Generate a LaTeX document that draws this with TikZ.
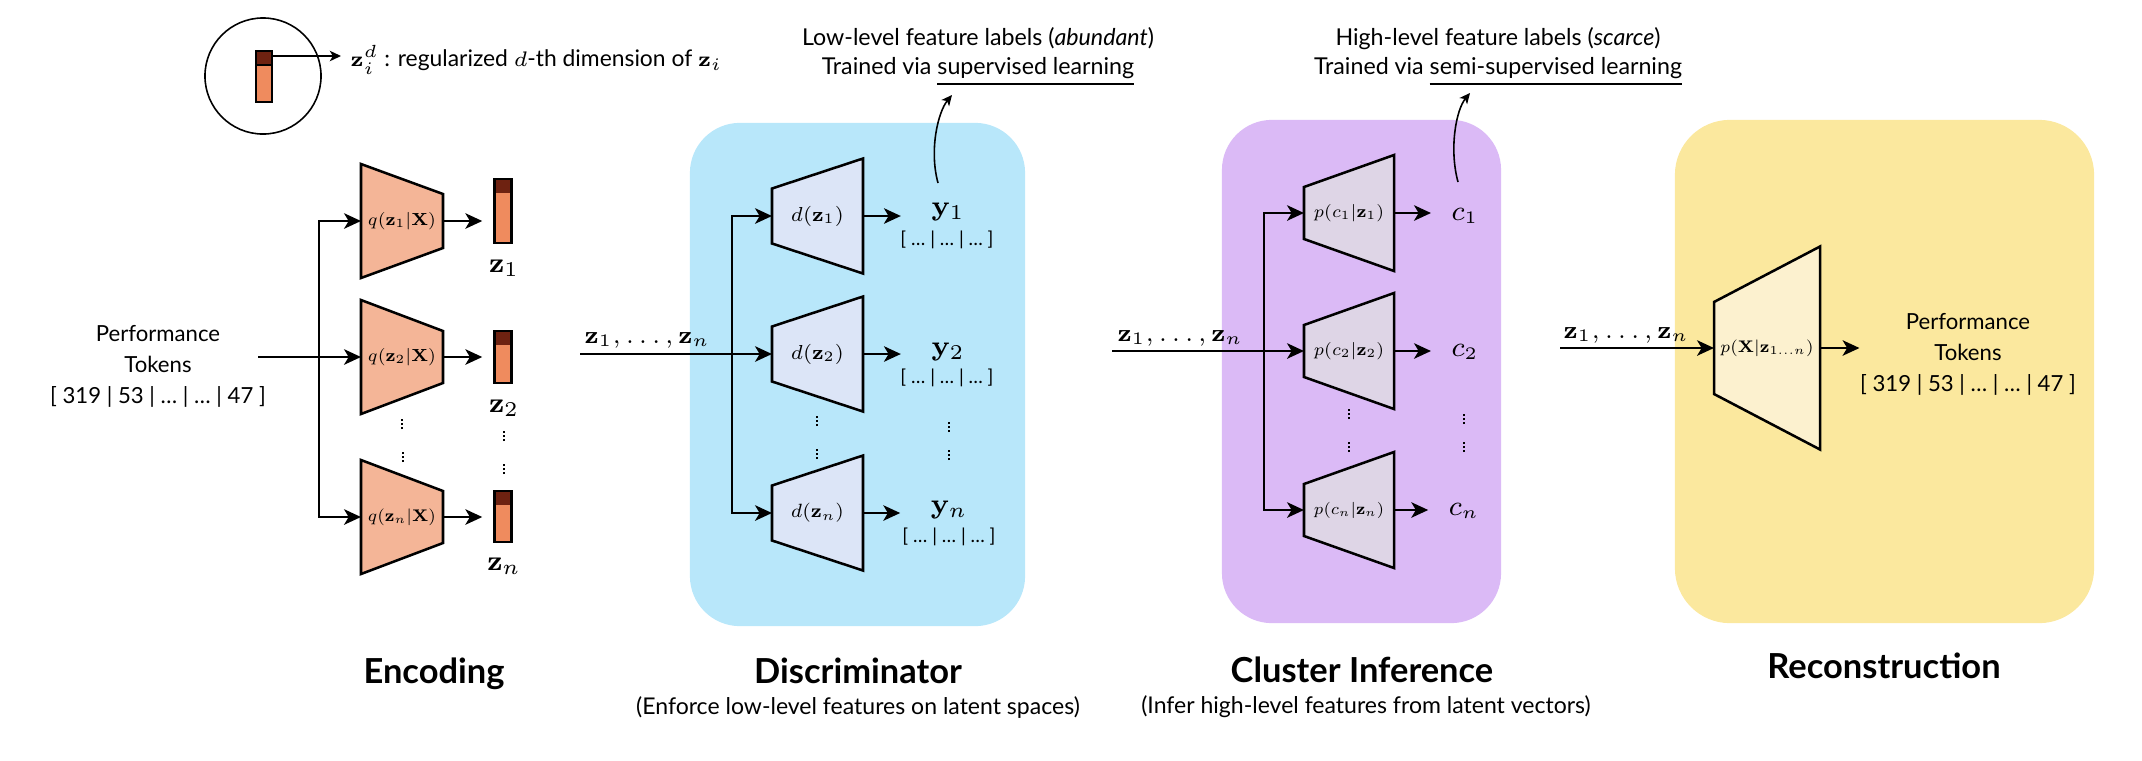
\documentclass[tikz,border=0pt]{standalone}
\usepackage[no-math]{fontspec}
\usepackage{graphicx}
\setmainfont{Lato}
\usetikzlibrary{arrows.meta,calc}
\definecolor{encfill}{HTML}{F4B597}
\definecolor{barlight}{HTML}{EF8B5E}
\definecolor{bardark}{HTML}{6E2211}
\definecolor{discbg}{HTML}{B8E7FA}
\definecolor{discfill}{HTML}{DCE5F7}
\definecolor{clubg}{HTML}{DBBAF6}
\definecolor{clufill}{HTML}{DED5E6}
\definecolor{recbg}{HTML}{FBE89E}
\definecolor{recfill}{HTML}{FCF1CF}
% #1 name #2 cx #3 cy #4 half width #5 left half height #6 right half height #7 fill #8 label width #9 label
\newcommand\trapz[9]{%
  \draw[trapline,fill=#7] (#2-#4,#3-#5) -- (#2+#4,#3-#6) -- (#2+#4,#3+#6) -- (#2-#4,#3+#5) -- cycle;
  \node[inner sep=0pt,outer sep=0pt,minimum width=#4*0.02cm,minimum height=2pt,font=\fontsize{7}{8}\selectfont] (#1) at (#2,#3) {\resizebox{#8}{!}{#9}};}
\newcommand\vdotz{\vbox{\offinterlineskip\hbox{\rule{0.6pt}{0.6pt}}\kern0.55pt\hbox{\rule{0.6pt}{0.6pt}}\kern0.55pt\hbox{\rule{0.6pt}{0.6pt}}}}
\begin{document}
\begin{tikzpicture}[x=0.01cm,y=-0.01cm,
  arr/.style={line width=0.65pt,-{Stealth[length=4.8pt,width=4.4pt,inset=1.3pt]}},
  thinarr/.style={line width=0.4pt,-{Stealth[length=3.2pt,width=3pt,inset=0.9pt]}},
  curv/.style={line width=0.45pt,-{Stealth[length=3pt,width=2.8pt,inset=0.8pt]}},
  trapline/.style={line width=0.72pt,line join=miter},
  panel/.style={rectangle,rounded corners=0.5cm,draw=none,inner sep=0pt},
  zbar/.style={draw,line width=0.7pt,fill=barlight,minimum width=0.17cm,inner sep=0pt,
    path picture={\fill[bardark] (path picture bounding box.north west) rectangle ([yshift=-0.14cm]path picture bounding box.north east);}},
  zlab/.style={inner sep=0pt,font=\fontsize{8}{9}\selectfont},
  zslab/.style={inner sep=0pt,anchor=base west,font=\fontsize{7.3}{8}\selectfont},
  clab/.style={inner sep=0pt,font=\fontsize{7.8}{9}\selectfont},
  brk/.style={inner sep=0pt,font=\fontsize{5.4}{6}\selectfont},
  ptok/.style={inner sep=0pt,align=center,font=\fontsize{6.3}{8.8}\selectfont},
  ann/.style={inner sep=0pt,align=center,font=\fontsize{6.6}{8.3}\selectfont},
  ttl/.style={inner sep=0pt,anchor=base,font=\fontsize{9.8}{12}\selectfont\bfseries},
  subt/.style={inner sep=0pt,anchor=base,font=\fontsize{6.55}{7.5}\selectfont},
  dts/.style={inner sep=0pt}]
\useasboundingbox (0,0) rectangle (2142,760);

% panels
\node[panel,fill=discbg,minimum width=3.35cm,minimum height=5.03cm] (discbox) at (857.5,374.5) {};
\node[panel,fill=clubg,minimum width=2.79cm,minimum height=5.03cm] (clubox) at (1361.5,371.5) {};
\node[panel,fill=recbg,minimum width=4.19cm,minimum height=5.03cm,rounded corners=0.55cm] (recbox) at (1884.5,371.5) {};

% legend
\draw[line width=0.45pt] (263,76) circle[radius=0.58cm];
\draw[line width=0.6pt,fill=barlight] (256,51) rectangle (272,102);
\draw[line width=0.6pt,fill=bardark] (256,51) rectangle (272,65);
\coordinate (lstart) at (272,56);
\node[inner sep=0pt,anchor=base west,font=\fontsize{6.5}{8}\selectfont] (legtxt) at (350,66) {$\mathbf{z}_i^d$ : regularized $d$-th dimension of $\mathbf{z}_i$};
\draw[thinarr,shorten >=0.09cm] (lstart) -- (lstart -| legtxt.west);

% encoding
\trapz{q1}{402}{221}{41}{57}{27}{encfill}{0.68cm}{$q(\mathbf{z}_1|\mathbf{X})$}
\trapz{q2}{402}{357}{41}{57}{26}{encfill}{0.68cm}{$q(\mathbf{z}_2|\mathbf{X})$}
\trapz{qn}{402}{517}{41}{57}{26}{encfill}{0.68cm}{$q(\mathbf{z}_n|\mathbf{X})$}
\node[zbar,minimum height=0.64cm] (b1) at (503,211) {};
\node[zbar,minimum height=0.52cm] (b2) at (503,357) {};
\node[zbar,minimum height=0.51cm] (bn) at (503,516.5) {};
\node[zlab] (z1) at (504,268) {$\mathbf{z}_1$};
\node[zlab] (z2) at (504,408) {$\mathbf{z}_2$};
\node[zlab] (zn) at (504,566) {$\mathbf{z}_n$};
\draw[arr,shorten >=0.11cm] (q1.east) -- (q1.east -| b1.west);
\draw[arr,shorten >=0.11cm] (q2.east) -- (q2.east -| b2.west);
\draw[arr,shorten >=0.11cm] (qn.east) -- (qn.east -| bn.west);
\node[ptok] (ptin) at (158,366) {Performance\\Tokens\\{[} 319 | 53 | … | … | 47 {]}};
\coordinate (inL) at (258,357);
\coordinate (ej) at (319,357);
\draw[arr] (inL) -- (q2.west);
\draw[arr] (ej) |- (q1.west);
\draw[arr] (ej) |- (qn.west);
\node[dts] (e1) at (402,424) {\vdotz};
\node[dts] (e2) at (403,457) {\vdotz};
\node[dts] (e3) at (504,436) {\vdotz};
\node[dts] (e4) at (504,469) {\vdotz};

% discriminator
\trapz{d1}{817.5}{216}{45.5}{27.5}{57.5}{discfill}{0.53cm}{$d(\mathbf{z}_1)$}
\trapz{d2}{817.5}{354}{45.5}{27.5}{57.5}{discfill}{0.53cm}{$d(\mathbf{z}_2)$}
\trapz{dn}{817.5}{513}{45.5}{27.5}{57.5}{discfill}{0.53cm}{$d(\mathbf{z}_n)$}
\node[zlab] (y1) at (948,212) {$\mathbf{y}_1$};
\node[zlab] (y2) at (948,352) {$\mathbf{y}_2$};
\node[zlab] (yn) at (949,510) {$\mathbf{y}_n$};
\node[brk] (yb1) at (947,240) {{[} … | … | … {]}};
\node[brk] (yb2) at (947,378) {{[} … | … | … {]}};
\node[brk] (ybn) at (949,537) {{[} … | … | … {]}};
\draw[arr,shorten >=0.3cm] (d1.east) -- (d1.east -| y1.west);
\draw[arr,shorten >=0.3cm] (d2.east) -- (d2.east -| y2.west);
\draw[arr,shorten >=0.3cm] (dn.east) -- (dn.east -| yn.west);
\coordinate (din) at (580,354);
\coordinate (dj) at (732,354);
\node[zslab] (zs1) at (584,343) {$\mathbf{z}_1,\ldots,\mathbf{z}_n$};
\draw[arr] (din) -- (d2.west);
\draw[arr] (dj) |- (d1.west);
\draw[arr] (dj) |- (dn.west);
\node[dts] (f1) at (817,421) {\vdotz};
\node[dts] (f2) at (817,454) {\vdotz};
\node[dts] (f3) at (949,427) {\vdotz};
\node[dts] (f4) at (949,455) {\vdotz};

% cluster inference
\trapz{p1}{1349}{213}{45}{26}{58}{clufill}{0.70cm}{$p(c_1|\mathbf{z}_1)$}
\trapz{p2}{1349}{351}{45}{26}{58}{clufill}{0.70cm}{$p(c_2|\mathbf{z}_2)$}
\trapz{pn}{1349}{510}{45}{26}{58}{clufill}{0.70cm}{$p(c_n|\mathbf{z}_n)$}
\node[clab] (c1) at (1465,216) {$c_1$};
\node[clab] (c2) at (1465,352) {$c_2$};
\node[clab] (cn) at (1464,511) {$c_n$};
\draw[arr,shorten >=0.2cm] (p1.east) -- (p1.east -| c1.west);
\draw[arr,shorten >=0.2cm] (p2.east) -- (p2.east -| c2.west);
\draw[arr,shorten >=0.2cm] (pn.east) -- (pn.east -| cn.west);
\coordinate (cin) at (1112,351);
\coordinate (cj) at (1264,351);
\node[zslab] (zs2) at (1117,341) {$\mathbf{z}_1,\ldots,\mathbf{z}_n$};
\draw[arr] (cin) -- (p2.west);
\draw[arr] (cj) |- (p1.west);
\draw[arr] (cj) |- (pn.west);
\node[dts] (g1) at (1349,414) {\vdotz};
\node[dts] (g2) at (1349,447) {\vdotz};
\node[dts] (g3) at (1464,419) {\vdotz};
\node[dts] (g4) at (1464,447) {\vdotz};

% reconstruction
\trapz{rec}{1767}{348}{53}{46}{101.5}{recfill}{0.93cm}{$p(\mathbf{X}|\mathbf{z}_{1\ldots n})$}
\coordinate (rin) at (1560,348);
\node[zslab] (zs3) at (1563,338) {$\mathbf{z}_1,\ldots,\mathbf{z}_n$};
\draw[arr] (rin) -- (rec.west);
\node[ptok] (ptout) at (1968,354) {Performance\\Tokens\\{[} 319 | 53 | … | … | 47 {]}};
\draw[arr] (rec.east) -- (rec.east -| ptout.west);

% annotations
\node[ann] (lowann) at (978,57) {Low-level feature labels (\textit{abundant})\\Trained via \underline{supervised learning}};
\node[ann] (highann) at (1498,57) {High-level feature labels (\textit{scarce})\\Trained via \underline{semi-supervised learning}};
\coordinate (a1s) at (938,183);
\coordinate (a1e) at (952,95);
\draw[curv] (a1s) .. controls (929,150) and (938,112) .. (a1e);
\coordinate (a2s) at (1458,182);
\coordinate (a2e) at (1470,93);
\draw[curv] (a2s) .. controls (1449,149) and (1456,110) .. (a2e);

% titles
\node[ttl] (tenc) at (434,683) {Encoding};
\node[ttl] (tdis) at (858,683) {Discriminator};
\node[subt] (sdis) at (858,714) {(Enforce low-level features on latent spaces)};
\node[ttl] (tclu) at (1362,682) {Cluster Inference};
\node[subt] (sclu) at (1366,713) {(Infer high-level features from latent vectors)};
\node[ttl] (trec) at (1884,678) {Reconstruction};
\end{tikzpicture}
\end{document}
